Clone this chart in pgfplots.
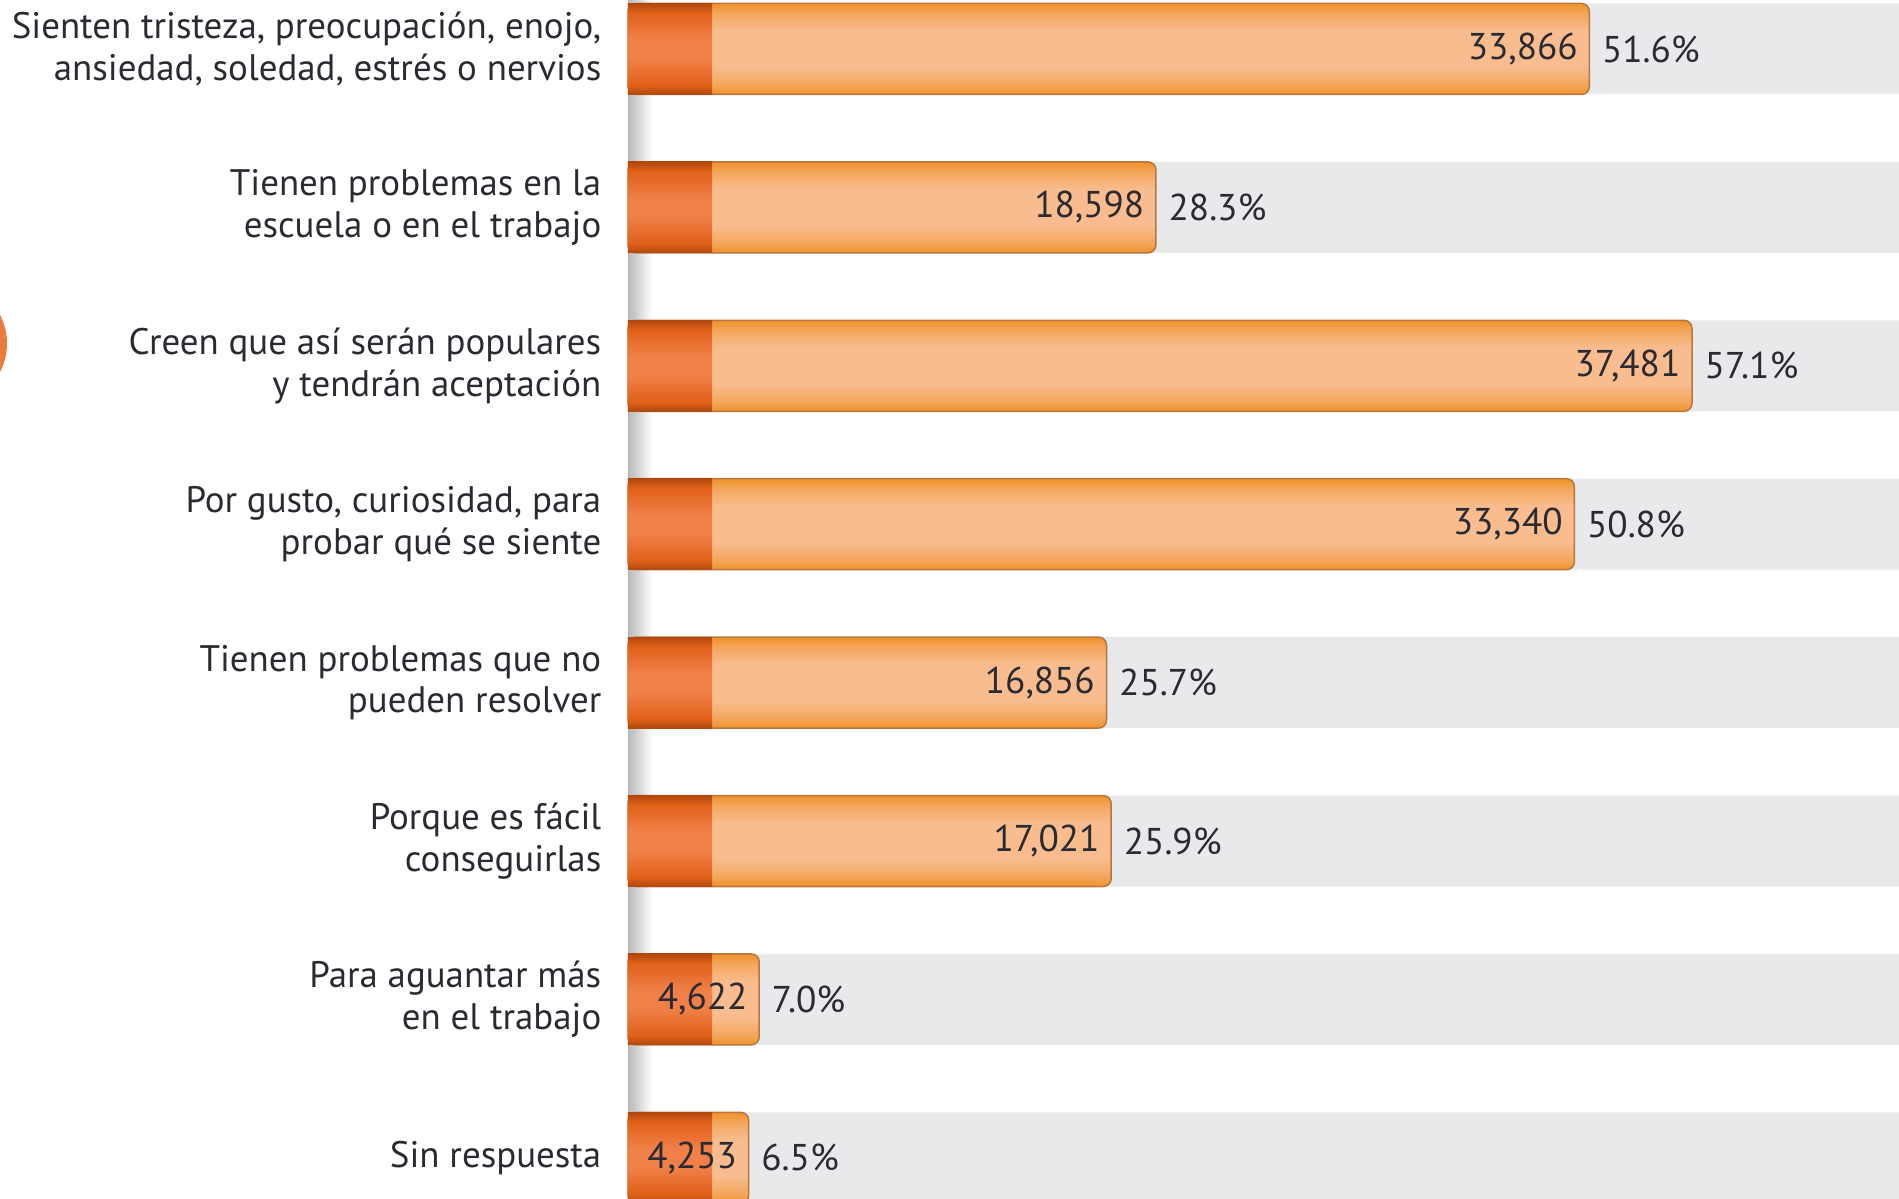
\documentclass[border=0pt]{standalone}
\usepackage{pgfplots}
\pgfplotsset{compat=1.18}
\usepackage{pgfplotstable}
\usepackage{fontspec}
\setmainfont{PT Sans}
\definecolor{txt}{HTML}{2A2B32}
\definecolor{band}{HTML}{E8E9EA}
\definecolor{oedge}{HTML}{EF922A}
\definecolor{omid}{HTML}{F4A860}
\definecolor{peachc}{HTML}{F8BC8E}
\definecolor{dbrown}{HTML}{B0480F}
\definecolor{dedge}{HTML}{E06018}
\definecolor{dcen}{HTML}{F08048}
\definecolor{barline}{HTML}{B8763E}
\definecolor{circ}{HTML}{EC7A3A}
\pgfdeclareverticalshading{peach}{100bp}{color(0bp)=(oedge); color(25bp)=(oedge); color(31bp)=(omid); color(40bp)=(peachc); color(60bp)=(peachc); color(69bp)=(omid); color(75bp)=(oedge); color(100bp)=(oedge)}
\pgfdeclareverticalshading{darkseg}{100bp}{color(0bp)=(dbrown); color(25bp)=(dbrown); color(30bp)=(dedge); color(45bp)=(dcen); color(55bp)=(dcen); color(70bp)=(dedge); color(75bp)=(dbrown); color(100bp)=(dbrown)}
\pgfplotstableread{
y val cnt pct
0 33866 33,866 51.6
1 18598 18,598 28.3
2 37481 37,481 57.1
3 33340 33,340 50.8
4 16856 16,856 25.7
5 17021 17,021 25.9
6 4622 4,622 7.0
7 4253 4,253 6.5
}\datatable
\begin{document}
\begin{tikzpicture}
\useasboundingbox (0,0) rectangle (189.9mm,-119.9mm);
\clip (0,0) rectangle (189.9mm,-119.9mm);
\fill[circ] (-5.45mm,-34.35mm) circle (6.15mm);
\begin{axis}[
  scale only axis, width=127.1mm, height=119.9mm,
  anchor=north west, at={(62.8mm,0)},
  xmin=0, xmax=44773,
  ymin=-0.3093, ymax=7.260, y dir=reverse,
  axis line style={draw=none},
  xtick=\empty,
  ytick={0,1,2,3,4,5,6,7},
  yticklabels={{Sienten tristeza, preocupación, enojo,\\ansiedad, soledad, estrés o nervios},
    {Tienen problemas en la\\escuela o en el trabajo},
    {Creen que así serán populares\\y tendrán aceptación},
    {Por gusto, curiosidad, para\\probar qué se siente},
    {Tienen problemas que no\\pueden resolver},
    {Porque es fácil\\conseguirlas},
    {Para aguantar más\\en el trabajo},
    {Sin respuesta}},
  yticklabel style={align=right, text=txt, inner sep=0pt, xshift=-2.6mm,
    font=\fontsize{10.5pt}{11.9pt}\selectfont},
  major tick length=0pt,
  clip=false,
  every axis plot/.append style={bar shift=0pt, bar width=0.5745},
  pbar/.style={xbar, shading=peach, shade, draw=barline, line width=0.15mm, rounded corners=0.8mm},
  dbar/.style={xbar, shading=darkseg, shade, draw=none},
]
\shade[left color=black!28, right color=white] (rel axis cs:0,0) rectangle ([xshift=2.4mm]rel axis cs:0,1);
\addplot[xbar, fill=band, draw=none] coordinates {(44773,0) (44773,1) (44773,2) (44773,3) (44773,4) (44773,5) (44773,6) (44773,7)};
\addplot[pbar] coordinates {(33866,0)};
\addplot[pbar] coordinates {(18598,1)};
\addplot[pbar] coordinates {(37481,2)};
\addplot[pbar] coordinates {(33340,3)};
\addplot[pbar] coordinates {(16856,4)};
\addplot[pbar] coordinates {(17021,5)};
\addplot[pbar] coordinates {(4622,6)};
\addplot[pbar] coordinates {(4253,7)};
\addplot[dbar] coordinates {(2959,0)};
\addplot[dbar] coordinates {(2959,1)};
\addplot[dbar] coordinates {(2959,2)};
\addplot[dbar] coordinates {(2959,3)};
\addplot[dbar] coordinates {(2959,4)};
\addplot[dbar] coordinates {(2959,5)};
\addplot[dbar] coordinates {(2959,6)};
\addplot[dbar] coordinates {(2959,7)};
\addplot[xbar, draw=none, fill=none, point meta=explicit symbolic,
  nodes near coords,
  every node near coord/.append style={anchor=east, xshift=-1.1mm, inner sep=0pt, text=txt, font=\fontsize{10.6pt}{11.8pt}\selectfont}]
  table[x=val, y=y, meta=cnt] {\datatable};
\addplot[xbar, draw=none, fill=none, point meta=explicit symbolic,
  nodes near coords={\pgfplotspointmeta\%},
  every node near coord/.append style={anchor=west, xshift=1.2mm, inner sep=0pt, text=txt, font=\fontsize{10.6pt}{11.8pt}\selectfont}]
  table[x=val, y=y, meta=pct] {\datatable};
\end{axis}
\end{tikzpicture}
\end{document}
